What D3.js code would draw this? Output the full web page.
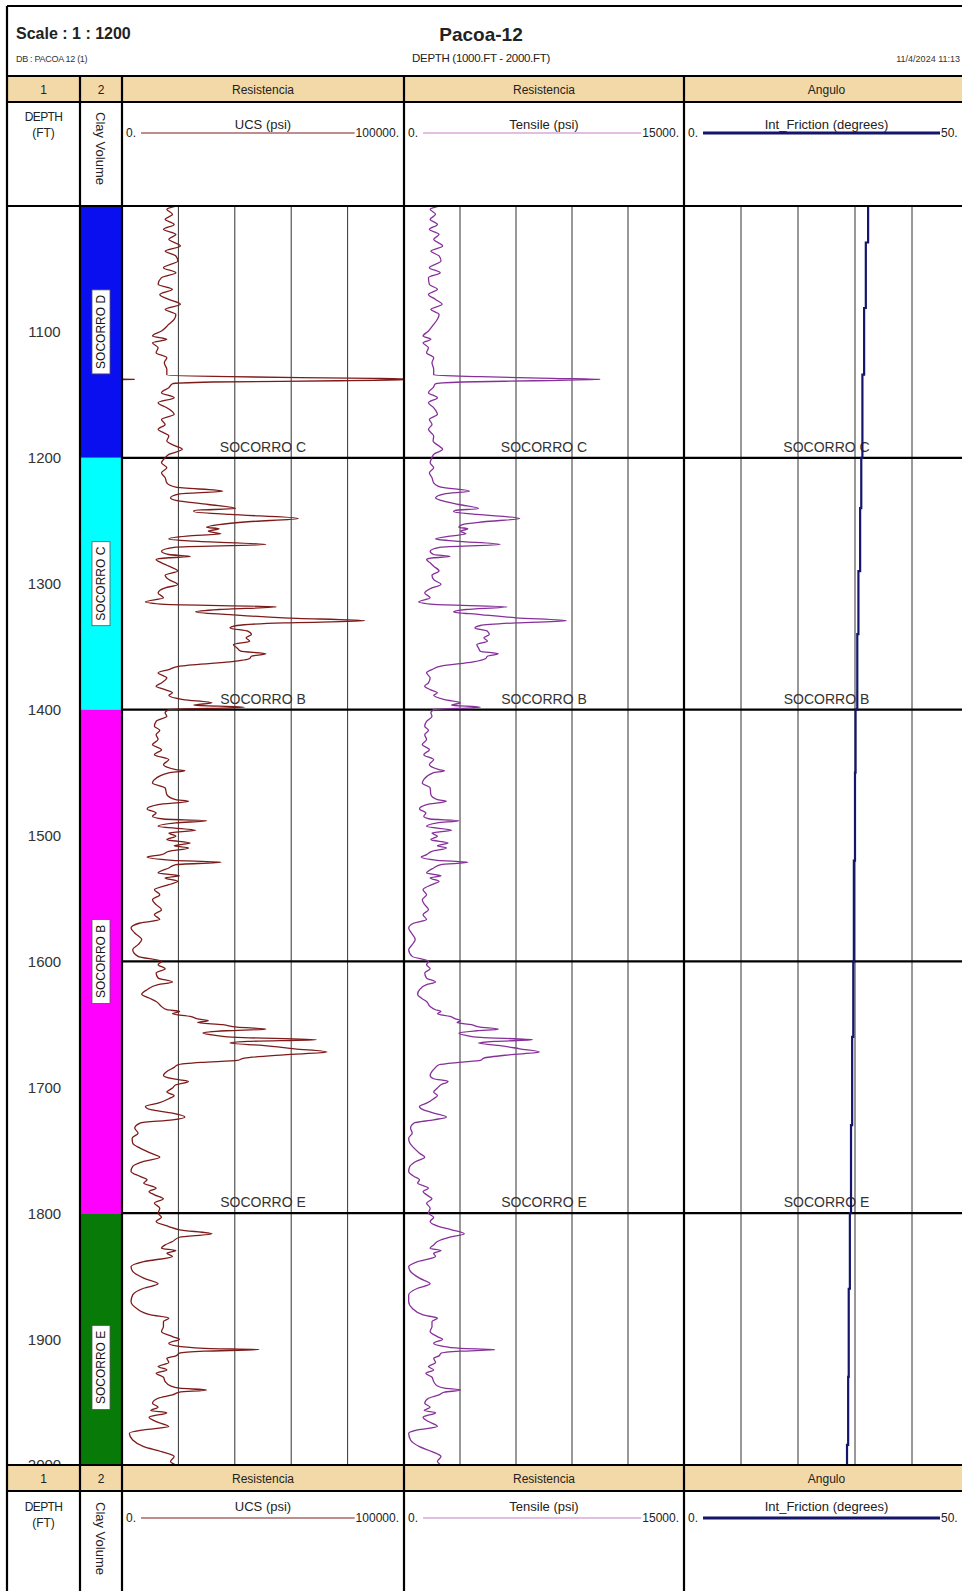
<!DOCTYPE html>
<html>
<head>
<meta charset="utf-8">
<style>
    body { margin: 0; background: white; }
    svg { display: block; font-family: 'Liberation Sans', Arial, sans-serif; }
</style>
</head>
<body>
<svg width="962" height="1591"></svg>

<script src="https://d3js.org/d3.v7.min.js"></script>
<script>
    let depth = [
        1000.0, 1002.6, 1006.6, 1010.6, 1014.6, 1018.5, 1022.5, 1026.5, 1031.8, 1035.8,
        1039.7, 1043.7, 1049.0, 1053.0, 1056.9, 1062.2, 1066.2, 1070.2, 1074.2, 1078.1,
        1082.1, 1086.1, 1090.0, 1094.0, 1099.3, 1103.3, 1105.9, 1108.6, 1112.6, 1116.5,
        1120.5, 1124.5, 1129.8, 1134.3, 1135.6, 1136.9, 1137.7, 1138.8, 1139.8, 1141.2,
        1144.3, 1148.3, 1152.3, 1156.2, 1160.2, 1165.5, 1169.5, 1173.5, 1177.4, 1182.7,
        1186.7, 1190.7, 1193.3, 1197.3,
        1200.0, 1204.0, 1207.9, 1211.9, 1215.9, 1219.9, 1223.3, 1226.5, 1228.6, 1231.8,
        1233.9, 1237.1, 1240.3, 1241.8, 1242.9, 1245.0, 1248.2, 1250.8, 1253.0, 1255.1,
        1256.4, 1258.3, 1260.4, 1262.2, 1264.4, 1266.2, 1268.9, 1271.0, 1274.2, 1276.8,
        1278.4, 1279.4, 1280.8, 1283.4, 1286.1, 1290.0, 1293.2, 1296.7, 1300.6, 1303.3,
        1307.3, 1311.2, 1314.4, 1316.5, 1318.4, 1320.5, 1322.4, 1324.5, 1327.1, 1329.5,
        1331.1, 1333.2, 1335.1, 1337.7, 1340.4, 1343.0, 1345.7, 1348.3, 1351.0, 1353.6,
        1355.7, 1357.6, 1359.4, 1362.1, 1365.5, 1368.2, 1370.8, 1374.8, 1378.8, 1381.4,
        1384.1, 1386.7, 1388.6, 1392.0, 1394.6, 1396.5, 1398.1,
        1400.0, 1402.6, 1405.3, 1409.3, 1413.2, 1416.4, 1419.9, 1423.8, 1427.8, 1431.8,
        1435.8, 1439.7, 1443.7, 1447.7, 1448.5, 1450.3, 1455.6, 1458.3, 1462.2, 1467.5,
        1471.5, 1472.8, 1475.5, 1478.9, 1482.1, 1484.7, 1486.9, 1488.2, 1490.0, 1492.7,
        1495.9, 1498.0, 1500.6, 1503.3, 1505.9, 1508.1, 1509.9, 1512.6, 1515.2, 1517.1,
        1519.7, 1521.3, 1523.1, 1525.8, 1529.8, 1531.9, 1533.7, 1536.4, 1539.0, 1543.0,
        1547.0, 1551.0, 1554.9, 1558.9, 1562.9, 1566.8, 1569.5, 1573.5, 1577.4, 1582.7,
        1586.7, 1590.7, 1596.0,
        1600.0, 1602.6, 1605.8, 1609.3, 1613.2, 1616.4, 1618.5, 1622.5, 1626.0, 1629.1,
        1631.8, 1635.8, 1638.4, 1639.7, 1641.6, 1643.7, 1645.6, 1647.1, 1648.5, 1650.3,
        1652.2, 1653.8, 1655.1, 1656.9, 1658.8, 1660.4, 1662.2, 1663.6, 1664.9, 1666.7,
        1669.4, 1672.0, 1674.2, 1676.8, 1678.7, 1680.2, 1682.1, 1684.2, 1687.4, 1690.6,
        1693.2, 1695.3, 1698.0, 1700.6, 1703.8, 1706.5, 1709.1, 1712.6, 1715.2, 1717.8,
        1720.5, 1723.7, 1725.8, 1728.4, 1732.4, 1736.4, 1740.4, 1744.3, 1748.3, 1752.3,
        1755.5, 1758.9, 1762.9, 1766.8, 1770.8, 1773.5, 1776.1, 1780.1, 1782.7, 1785.4,
        1788.6, 1792.0, 1796.0,
        1800.0, 1803.2, 1806.6, 1810.6, 1813.2, 1816.4, 1819.1, 1822.5, 1825.2, 1827.8,
        1829.7, 1831.8, 1834.4, 1838.4, 1842.4, 1846.3, 1851.6, 1856.1, 1859.6, 1864.9,
        1870.2, 1875.5, 1880.8, 1883.4, 1886.1, 1890.0, 1894.0, 1898.0, 1900.1, 1903.3,
        1905.4, 1907.3, 1908.3, 1909.6, 1911.2, 1913.3, 1915.2, 1918.6, 1921.8, 1924.5,
        1927.1, 1930.3, 1933.7, 1937.2, 1939.0, 1940.4, 1942.2, 1944.3, 1947.0, 1951.0,
        1954.1, 1956.8, 1958.4, 1962.1, 1965.5, 1969.5, 1972.1, 1974.8, 1980.1, 1985.4,
        1989.4, 1993.3, 1997.3, 2000.0
    ]

    let ucs = [
        19100, 15900, 17900, 15300, 18500, 14700, 19100, 16600, 20700, 15300,
        19100, 19800, 14700, 19100, 14000, 12800, 17900, 13400, 16600, 20700,
        15300, 19100, 18500, 16600, 14000, 10800, 15900, 10800, 12800, 12100,
        15900, 15000, 15900, 15900, 38000, 89000, 104500, 76500, 32000, 17900,
        16600, 14000, 18500, 12800, 15900, 18500, 14000, 15300, 12800, 16600,
        15900, 19100, 21400, 16600,
        15300, 14000, 15900, 14000, 15300, 15900, 19100, 35700, 20400, 17200,
        19100, 30600, 40200, 25500, 25500, 38300, 62500, 44600, 34400, 30000,
        34400, 30600, 35100, 23000, 16600, 25500, 51000, 19100, 14000, 16600,
        24200, 16600, 12100, 14000, 16600, 19800, 15300, 16600, 19800, 15300,
        12800, 14700, 8300, 15300, 54800, 34400, 26100, 38300, 57400, 86100,
        57400, 40800, 38300, 44600, 45900, 44000, 45300, 39500, 40800, 42100,
        51000, 45900, 45300, 38300, 20400, 16600, 12800, 15900, 14000, 12100,
        15300, 17900, 16600, 21700, 31900, 25500, 43400,
        16600, 15300, 15900, 12100, 11500, 13400, 12100, 12800, 10800, 14000,
        11500, 16600, 14700, 19100, 22300, 16600, 11500, 10800, 15300, 15900,
        19100, 23600, 12800, 8900, 12100, 10800, 14700, 30000, 19100, 12800,
        26100, 16600, 19100, 15900, 24200, 18500, 23600, 16600, 14000, 8900,
        17900, 35100, 19100, 16600, 12800, 20400, 15300, 19800, 16600, 11500,
        13400, 10800, 12100, 14000, 11500, 13400, 6400, 3200, 4500, 7000,
        5700, 3800, 5700,
        14000, 12800, 15300, 12100, 12800, 17900, 12800, 8900, 7000, 9600,
        12100, 14000, 15900, 20400, 17900, 24200, 26800, 30600, 26800, 35700,
        40800, 51000, 37000, 28700, 33200, 40800, 68900, 44600, 38300, 49700,
        61200, 72700, 57400, 43400, 40800, 28100, 19800, 18500, 15900, 14700,
        17900, 23600, 19100, 17900, 15900, 18500, 16600, 12800, 8300, 10200,
        17900, 22300, 17900, 6400, 4500, 5700, 3600, 3800, 6400, 10200,
        13400, 7700, 3800, 3200, 6400, 8900, 7700, 12100, 9600, 11500,
        14700, 11500, 13400,
        12800, 14000, 12100, 16600, 20400, 31900, 20400, 17900, 15300, 14000,
        19100, 15900, 17900, 7700, 3200, 3800, 7700, 12800, 7700, 3800,
        3200, 5100, 10200, 16600, 14700, 14700, 14000, 17900, 20400, 16600,
        19100, 29300, 48500, 29300, 20400, 19100, 15900, 16600, 12800, 15900,
        12100, 14700, 15300, 17200, 20400, 30000, 20400, 17900, 12800, 10800,
        12800, 10200, 15900, 9600, 12100, 16600, 7700, 2600, 3800, 7700,
        14000, 18500, 17200, 19100
    ]

    let tensile = [
        1880, 1400, 1690, 1400, 1790, 1360, 1880, 1590, 2070, 1440,
        1880, 1980, 1360, 1940, 1310, 1360, 1790, 1310, 1690, 2040,
        1440, 1880, 1790, 1590, 1310, 1020, 1440, 1020, 1310, 1210,
        1590, 1500, 1590, 1590, 4090, 7930, 10520, 6970, 3130, 1690,
        1560, 1310, 1790, 1310, 1590, 1790, 1360, 1500, 1310, 1590,
        1560, 1880, 2070, 1590,
        1500, 1400, 1590, 1360, 1500, 1590, 1980, 3510, 2170, 1690,
        1980, 2940, 3990, 2750, 2650, 3900, 6200, 4280, 3130, 2940,
        3420, 3030, 3320, 2460, 1690, 2750, 5150, 1980, 1400, 1590,
        2460, 1590, 1210, 1400, 1590, 1880, 1500, 1590, 1980, 1500,
        1110, 1400, 790, 1590, 5530, 3320, 2650, 4090, 6010, 8700,
        6010, 4090, 3800, 4470, 4570, 4280, 4470, 3900, 3990, 4090,
        5050, 4470, 4380, 3710, 1980, 1500, 1210, 1400, 1310, 1110,
        1400, 1790, 1590, 2170, 3030, 2550, 4090,
        1590, 1440, 1500, 1210, 1110, 1310, 1110, 1210, 980, 1360,
        1060, 1590, 1360, 1880, 2170, 1560, 1060, 980, 1400, 1440,
        1790, 2270, 1210, 830, 1170, 1060, 1400, 2940, 1790, 1210,
        2550, 1500, 1790, 1440, 2360, 1790, 2270, 1500, 1210, 920,
        1790, 3420, 1980, 1590, 1210, 1980, 1400, 1880, 1500, 1020,
        1210, 980, 1110, 1310, 1020, 1210, 540, 250, 400, 600,
        440, 250, 440,
        1310, 1210, 1400, 1110, 1210, 1690, 1210, 830, 730, 920,
        1210, 1400, 1690, 1980, 1790, 2460, 2750, 3030, 2840, 3610,
        4090, 5050, 3900, 2940, 3320, 4090, 6870, 4860, 3990, 5050,
        6200, 7260, 5630, 4280, 4090, 2940, 1880, 1690, 1500, 1400,
        1590, 2360, 1980, 1790, 1590, 1790, 1590, 1210, 830, 1020,
        1590, 2270, 1590, 540, 350, 440, 250, 310, 540, 830,
        1110, 630, 310, 250, 540, 830, 730, 1310, 1020, 1210,
        1500, 1210, 1400,
        1310, 1590, 1400, 1880, 2550, 3230, 2460, 1790, 1590, 1400,
        1980, 1590, 1690, 730, 250, 350, 830, 1400, 730, 250,
        250, 440, 1020, 1790, 1500, 1500, 1400, 1790, 2070, 1590,
        1980, 3030, 4860, 3030, 1980, 1880, 1590, 1690, 1310, 1590,
        1170, 1500, 1590, 1790, 2170, 3030, 2170, 1880, 1310, 1110,
        1400, 1080, 1690, 1020, 1310, 1790, 730, 250, 350, 830,
        1500, 1980, 1790, 1980
    ]

    // friction angle is a stepped curve: value holds from each depth to the next
    let frictionDepth = [1000, 1029, 1081, 1134, 1200, 1240, 1290, 1340, 1400, 1450,
        1520, 1600, 1660, 1730, 1800, 1860, 1930, 1984, 2000]
    let friction = [32.3, 31.9, 31.6, 31.3, 31.1, 30.9, 30.6, 30.4, 30.1, 30.0,
        29.8, 29.7, 29.5, 29.3, 29.1, 28.9, 28.8, 28.6, 28.6]

    let zoneNames = ["SOCORRO D", "SOCORRO C", "SOCORRO B", "SOCORRO E"]
    let zoneTop = [1000, 1200, 1400, 1800]
    let zoneBase = [1200, 1400, 1800, 2045]
    let zoneColors = ["#0a0ff0", "#00ffff", "#ff00ff", "#087a08"]

    let topNames = ["SOCORRO C", "SOCORRO B", "SOCORRO E"]
    let topDepths = [1200, 1400, 1800]

    let depthTicks = [1100, 1200, 1300, 1400, 1500, 1600, 1700, 1800, 1900, 2000]
    let majorDepths = [1200, 1400, 1600, 1800]
    let ucsTicks = [20000, 40000, 60000, 80000]
    let tensileTicks = [3000, 6000, 9000, 12000]
    let frictionTicks = [10, 20, 30, 40]

    let bandTitles = ["1", "2", "Resistencia", "Resistencia", "Angulo"]
    let curveTitles = ["UCS (psi)", "Tensile (psi)", "Int_Friction (degrees)"]
    let scaleMin = ["0.", "0.", "0."]
    let scaleMax = ["100000.", "15000.", "50."]

    // ---- layout ----
    let W = 962
    let edges = [7, 80, 122, 404, 684, 969]
    let dataTop = 206, dataBot = 1465

    let svg = d3.select("svg")

    let y = d3.scaleLinear().domain([1000, 2000]).range([dataTop, dataBot])
    let xUcs = d3.scaleLinear().domain([0, 100000]).range([edges[2], edges[3]])
    let xTen = d3.scaleLinear().domain([0, 15000]).range([edges[3], edges[4]])
    let xFric = d3.scaleLinear().domain([0, 50]).range([edges[4], edges[5]])

    let ucsColor = "#7d1b1b", tenColor = "#86309a", fricColor = "#15166b"

    let defs = svg.append("defs")
    function clip(id, x0, x1) {
        defs.append("clipPath").attr("id", id)
            .append("rect").attr("x", x0).attr("y", dataTop).attr("width", x1 - x0).attr("height", dataBot - dataTop)
    }
    clip("c1", edges[0], edges[1])
    clip("c2", edges[1], edges[2])
    clip("c3", edges[2], edges[3])
    clip("c4", edges[3], edges[4])
    clip("c5", edges[4], edges[5])

    // ---- track 1: depth labels ----
    svg.append("g").attr("clip-path", "url(#c1)")
        .selectAll("text").data(depthTicks).join("text")
        .attr("x", (edges[0] + edges[1]) / 2 + 1)
        .attr("y", d => y(d))
        .attr("dy", "0.36em")
        .attr("text-anchor", "middle")
        .attr("font-size", 15)
        .attr("fill", "#333")
        .text(d => d)

    // ---- track 2: zones ----
    let zones = d3.range(zoneNames.length).map(i => ({
        name: zoneNames[i], top: zoneTop[i], base: zoneBase[i], color: zoneColors[i]
    }))
    let zg = svg.append("g").attr("clip-path", "url(#c2)")
    zg.selectAll("rect").data(zones).join("rect")
        .attr("x", edges[1]).attr("width", edges[2] - edges[1])
        .attr("y", d => y(d.top)).attr("height", d => y(d.base) - y(d.top))
        .attr("fill", d => d.color)

    let labels = zg.selectAll("g.zl").data(zones).join("g")
        .attr("class", "zl")
        .attr("transform", d => `translate(${(edges[1] + edges[2]) / 2},${y((d.top + d.base) / 2)}) rotate(-90)`)
    labels.append("rect")
        .attr("x", -42).attr("y", -9).attr("width", 84).attr("height", 18)
        .attr("fill", "white").attr("stroke", "#555").attr("stroke-width", 0.8)
    labels.append("text")
        .attr("text-anchor", "middle").attr("dy", "0.36em")
        .attr("font-size", 12).attr("fill", "#111")
        .text(d => d.name)

    // ---- grid ----
    let grid = svg.append("g").attr("stroke", "#333").attr("stroke-width", 1)
    function vgrid(ticks, x) {
        grid.selectAll(null).data(ticks).join("line")
            .attr("x1", d => x(d)).attr("x2", d => x(d))
            .attr("y1", dataTop).attr("y2", dataBot)
    }
    vgrid(ucsTicks, xUcs)
    vgrid(tensileTicks, xTen)
    vgrid(frictionTicks, xFric)

    svg.append("g").selectAll("line").data(majorDepths).join("line")
        .attr("x1", edges[2]).attr("x2", W)
        .attr("y1", d => y(d)).attr("y2", d => y(d))
        .attr("stroke", "black").attr("stroke-width", 2.2)

    // formation top names in each curve track
    let centers = [(edges[2] + edges[3]) / 2, (edges[3] + edges[4]) / 2, (edges[4] + edges[5]) / 2]
    let topG = svg.append("g")
    centers.forEach(cx => {
        topG.selectAll(null).data(topNames).join("text")
            .attr("x", cx)
            .attr("y", (d, i) => y(topDepths[i]) - 6)
            .attr("text-anchor", "middle")
            .attr("font-size", 14)
            .attr("fill", "#333")
            .text(d => d)
    })

    // ---- curves ----
    let rows = depth.map((d, i) => ({ depth: d, ucs: ucs[i], ten: tensile[i] }))

    let smooth = d3.curveMonotoneY
    let ucsLine = d3.line().curve(smooth).x(d => xUcs(d.ucs)).y(d => y(d.depth))
    // wrap-around (backup) trace for values past the right edge
    let ucsWrap = d3.line().x(d => xUcs(d.ucs - 100000)).y(d => y(d.depth))
    let tenLine = d3.line().curve(smooth).x(d => xTen(d.ten)).y(d => y(d.depth))

    svg.append("path").datum(rows).attr("clip-path", "url(#c3)")
        .attr("d", ucsLine).attr("fill", "none").attr("stroke", ucsColor).attr("stroke-width", 1.3)
    svg.append("path").datum(rows).attr("clip-path", "url(#c3)")
        .attr("d", ucsWrap).attr("fill", "none").attr("stroke", ucsColor).attr("stroke-width", 1.3)
    svg.append("path").datum(rows).attr("clip-path", "url(#c4)")
        .attr("d", tenLine).attr("fill", "none").attr("stroke", tenColor).attr("stroke-width", 1.3)

    let fricRows = frictionDepth.map((d, i) => ({ depth: d, v: friction[i] }))
    svg.append("path").datum(fricRows).attr("clip-path", "url(#c5)")
        .attr("d", d3.line().curve(d3.curveStepBefore).x(d => xFric(d.v)).y(d => y(d.depth)))
        .attr("fill", "none").attr("stroke", fricColor).attr("stroke-width", 2.2)

    // ---- headers (top and bottom) ----
    function header(bandY, o) {
        let g = svg.append("g")
        g.append("rect").attr("x", edges[0]).attr("y", bandY).attr("width", W - edges[0]).attr("height", 26)
            .attr("fill", "#f3d9a7")
        g.selectAll("text.band").data(bandTitles).join("text")
            .attr("class", "band")
            .attr("x", (d, i) => (edges[i] + Math.min(edges[i + 1], W + 7)) / 2)
            .attr("y", bandY + 18)
            .attr("text-anchor", "middle").attr("font-size", 12).attr("fill", "#222")
            .text(d => d)

        let h = bandY + 26
        let cx1 = (edges[0] + edges[1]) / 2
        g.append("text").attr("x", cx1).attr("y", h + o.depth).attr("text-anchor", "middle")
            .attr("font-size", 12).attr("letter-spacing", -0.6).attr("fill", "#222").text("DEPTH")
        g.append("text").attr("x", cx1).attr("y", h + o.depth + 16).attr("text-anchor", "middle")
            .attr("font-size", 12).attr("fill", "#222").text("(FT)")
        g.append("text")
            .attr("transform", `translate(${(edges[1] + edges[2]) / 2},${h + o.clay}) rotate(90)`)
            .attr("dy", "0.36em").attr("font-size", 13).attr("fill", "#222").text("Clay Volume")

        let colors = [ucsColor, "#c77fc7", fricColor]
        let widths = [1, 1.2, 3]
        curveTitles.forEach((t, i) => {
            let x0 = edges[i + 2], x1 = edges[i + 3]
            g.append("text").attr("x", centers[i]).attr("y", h + o.name).attr("text-anchor", "middle")
                .attr("font-size", 13).attr("fill", "#222").text(t)
            let lo = g.append("text").attr("x", x0 + 4).attr("y", h + o.scale + 4)
                .attr("font-size", 12).attr("fill", "#222").text(scaleMin[i])
            let hi = g.append("text").attr("font-size", 12).attr("fill", "#222").text(scaleMax[i])
            let hw = hi.node().getComputedTextLength()
            let hx = i == 2 ? W - 21 : x1 - 5 - hw
            hi.attr("x", hx).attr("y", h + o.scale + 4)
            let lw = lo.node().getComputedTextLength()
            g.append("line")
                .attr("x1", x0 + 4 + lw + 5).attr("x2", hx - 1)
                .attr("y1", h + o.scale).attr("y2", h + o.scale)
                .attr("stroke", colors[i]).attr("stroke-width", widths[i])
        })
    }
    header(76, { depth: 19, clay: 10, name: 27, scale: 31 })
    header(1465, { depth: 20, clay: 11, name: 20, scale: 27 })

    // ---- frame lines ----
    let frame = svg.append("g").attr("stroke", "black").attr("stroke-width", 2.2)
    frame.append("line").attr("x1", edges[0]).attr("x2", W).attr("y1", 6).attr("y2", 6)
    frame.append("line").attr("x1", edges[0]).attr("x2", edges[0]).attr("y1", 6).attr("y2", 1591)
    frame.selectAll(null).data([76, 102, dataTop, dataBot, 1491]).join("line")
        .attr("x1", edges[0]).attr("x2", W).attr("y1", d => d).attr("y2", d => d)
    frame.selectAll(null).data(edges.slice(1, 5)).join("line")
        .attr("x1", d => d).attr("x2", d => d).attr("y1", 76).attr("y2", 1591)

    // ---- title block ----
    svg.append("text").attr("x", 16).attr("y", 39).attr("font-size", 16).attr("font-weight", "bold")
        .attr("fill", "#222").text("Scale : 1 : 1200")
    svg.append("text").attr("x", 16).attr("y", 62).attr("font-size", 9).attr("fill", "#333")
        .attr("letter-spacing", -0.3).text("DB : PACOA 12 (1)")
    svg.append("text").attr("x", 481).attr("y", 41).attr("text-anchor", "middle").attr("font-size", 19)
        .attr("font-weight", "bold").attr("fill", "#222").text("Pacoa-12")
    svg.append("text").attr("x", 481).attr("y", 62).attr("text-anchor", "middle").attr("font-size", 11.5)
        .attr("letter-spacing", -0.3).attr("fill", "#222").text("DEPTH (1000.FT - 2000.FT)")
    svg.append("text").attr("x", 960).attr("y", 62).attr("text-anchor", "end").attr("font-size", 9)
        .attr("fill", "#333").text("11/4/2024 11:13")
</script>
</body>
</html>
